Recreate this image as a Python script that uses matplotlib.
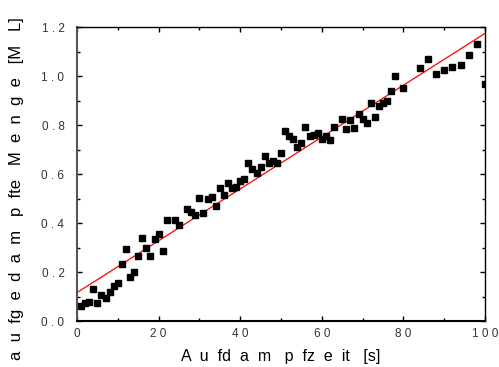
import matplotlib
matplotlib.use("Agg")
import matplotlib.pyplot as plt
from matplotlib.ticker import FixedLocator, FixedFormatter, MultipleLocator

plt.rcParams["font.family"] = ["Liberation Sans", "DejaVu Sans"]

# evaporation time [s] and deposited amount [ML]
times = [1, 2, 3, 4, 5, 6, 7, 8, 9, 10, 11, 12, 13, 14, 15, 16, 17, 18, 19, 20,
         21, 22, 24, 25, 27, 28, 29, 30, 31, 32, 33, 34, 35, 36, 37, 38, 39, 40,
         41, 42, 43, 44, 45, 46, 47, 48, 49, 50, 51, 52, 53, 54, 55, 56, 57, 58,
         59, 60, 61, 62, 63, 65, 66, 67, 68, 69, 70, 71, 72, 73, 74, 75, 76, 77,
         78, 80, 84, 86, 88, 90, 92, 94, 96, 98, 100]
coverage = [0.061, 0.072, 0.078, 0.130, 0.073, 0.106, 0.094, 0.118, 0.143, 0.155,
            0.234, 0.293, 0.181, 0.200, 0.267, 0.340, 0.300, 0.265, 0.335, 0.354,
            0.287, 0.411, 0.411, 0.390, 0.456, 0.444, 0.434, 0.502, 0.440, 0.500,
            0.507, 0.468, 0.542, 0.514, 0.565, 0.544, 0.546, 0.573, 0.578, 0.644,
            0.619, 0.603, 0.630, 0.673, 0.644, 0.654, 0.644, 0.684, 0.777, 0.755,
            0.742, 0.709, 0.728, 0.790, 0.755, 0.760, 0.766, 0.743, 0.755, 0.739,
            0.793, 0.826, 0.782, 0.819, 0.786, 0.845, 0.823, 0.807, 0.891, 0.834,
            0.878, 0.891, 0.899, 0.940, 1.000, 0.950, 1.031, 1.069, 1.008, 1.026,
            1.035, 1.045, 1.087, 1.129, 0.966]

# linear fit as drawn in the reference
fit_x = [0, 100]
fit_intercept = 0.116
fit_slope = 0.01058

xticks = [0, 20, 40, 60, 80, 100]
xtick_labels = ["0", "2 0", "4 0", "6 0", "8 0", "1 0 0"]
yticks = [0.0, 0.2, 0.4, 0.6, 0.8, 1.0, 1.2]
ytick_labels = ["0 . 0", "0 . 2", "0 . 4", "0 . 6", "0 . 8", "1 . 0", "1 . 2"]

fig = plt.figure(figsize=(4.99, 3.67), dpi=100)
ax = fig.add_axes([0.1543, 0.1253, 0.8177, 0.8011])

ax.plot(fit_x, [fit_intercept + fit_slope * x for x in fit_x], color="red", lw=0.9, zorder=2)
ax.plot(times, coverage, "s", color="black", markersize=5.0, zorder=3)

ax.set_xlim(0, 100)
ax.set_ylim(0, 1.2)

ax.xaxis.set_major_locator(FixedLocator(xticks))
ax.xaxis.set_major_formatter(FixedFormatter(xtick_labels))
ax.xaxis.set_minor_locator(MultipleLocator(10))
ax.yaxis.set_major_locator(FixedLocator(yticks))
ax.yaxis.set_major_formatter(FixedFormatter(ytick_labels))
ax.yaxis.set_minor_locator(MultipleLocator(0.1))

ax.tick_params(which="both", direction="in", top=True, right=True, width=1.0, colors="black")
ax.tick_params(which="major", length=3.5)
ax.tick_params(which="minor", length=2.2)
ax.tick_params(axis="x", which="major", labelsize=8.5, pad=5)
ax.tick_params(axis="y", which="major", labelsize=8.5, pad=9)
for lab in ax.get_xticklabels() + ax.get_yticklabels():
    lab.set_color("#333333")

for side in ["top", "right"]:
    ax.spines[side].set_linewidth(1.0)
ax.spines["bottom"].set_linewidth(1.5)
ax.spines["left"].set_linewidth(1.5)
ax.spines["left"].set_color("#555555")

ax.set_xlabel("A  u  fd  a  m   p  fz  e  it   [s]", fontsize=11.5)
ax.xaxis.set_label_coords(0.5, -0.095)
ax.set_ylabel("a  u  fg  e  d  a  m   p  fte   M  e  n  g  e   [M   L]", fontsize=12)
ax.yaxis.set_label_coords(-0.13, 0.45)

fig.savefig("out.png", dpi=100)
